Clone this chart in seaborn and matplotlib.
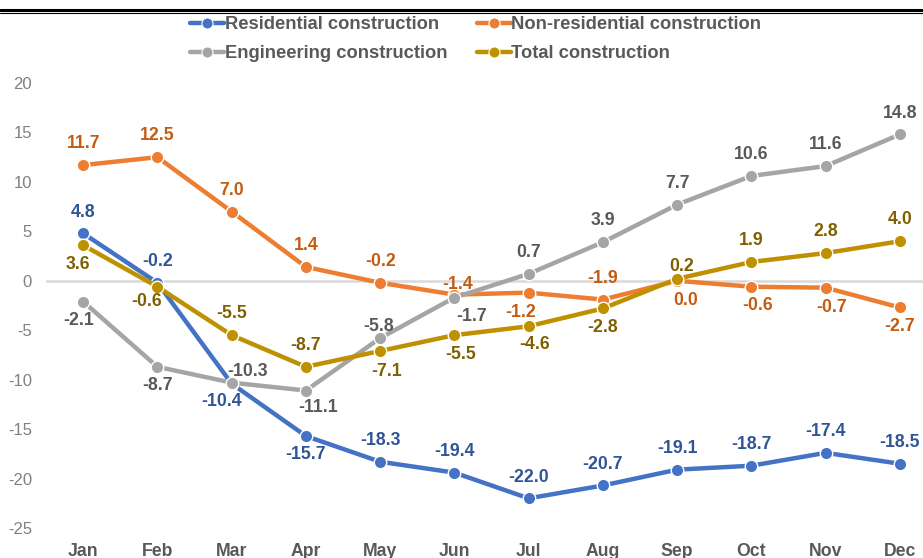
import pandas as pd
import matplotlib
matplotlib.use("Agg")
import matplotlib.pyplot as plt
from matplotlib.lines import Line2D
import seaborn as sns

# --- Data ---
months = ["Jan", "Feb", "Mar", "Apr", "May", "Jun", "Jul", "Aug", "Sep", "Oct", "Nov", "Dec"]
residential = [4.8, -0.2, -10.4, -15.7, -18.3, -19.4, -22.0, -20.7, -19.1, -18.7, -17.4, -18.5]
non_residential = [11.7, 12.5, 7.0, 1.4, -0.2, -1.4, -1.2, -1.9, 0.0, -0.6, -0.7, -2.7]
engineering = [-2.1, -8.7, -10.3, -11.1, -5.8, -1.7, 0.7, 3.9, 7.7, 10.6, 11.6, 14.8]
total = [3.6, -0.6, -5.5, -8.7, -7.1, -5.5, -4.6, -2.8, 0.2, 1.9, 2.8, 4.0]

series_names = ["Residential construction", "Non-residential construction",
                "Engineering construction", "Total construction"]
series_values = [residential, non_residential, engineering, total]

# --- Styles ---
line_colors = ["#4472C4", "#ED7D31", "#A5A5A5", "#BF9000"]
label_colors = ["#2F5597", "#C55A11", "#595959", "#7F6000"]

# label placement: a = above, b = below
label_pos = [
    ["a", "a", "b", "b", "a", "a", "a", "a", "a", "a", "a", "a"],
    ["a", "a", "a", "a", "a", "a", "b", "a", "b", "b", "b", "b"],
    ["b", "b", "a", "b", "a", "b", "a", "a", "a", "a", "a", "a"],
    ["b", "b", "a", "a", "b", "b", "b", "b", "a", "a", "a", "a"],
]
# fine tweaks (dx, dy) in screen pixels, dy positive = downwards
label_tweaks = {
    (0, 2): (-10, 16),
    (1, 5): (3, -12),
    (1, 6): (-8, 18),
    (1, 8): (9, 18),
    (1, 9): (6, 17),
    (1, 10): (6, 18),
    (2, 0): (-5, 17),
    (2, 2): (16, -13),
    (2, 3): (12, 15),
    (2, 4): (-2, -13),
    (2, 5): (17, 17),
    (3, 0): (-5, 18),
    (3, 1): (-11, 13),
    (3, 4): (6, 19),
    (3, 5): (6, 18),
    (3, 6): (6, 17),
    (3, 8): (4, -14),
}

rows = []
for name, vals in zip(series_names, series_values):
    for i, v in enumerate(vals):
        rows.append({"series": name, "idx": i, "value": v})
df = pd.DataFrame(rows)

sns.set_theme(style="white")
plt.rcParams["font.family"] = ["Liberation Sans", "DejaVu Sans"]
plt.rcParams["axes.unicode_minus"] = False

fig = plt.figure(figsize=(9.23, 5.58), dpi=100)
ax = fig.add_axes([46 / 923, 30 / 558, 891 / 923, 445 / 558])

ax.axhline(0, color="#D9D9D9", lw=1.8, zorder=1)

sns.lineplot(data=df, x="idx", y="value", hue="series", hue_order=series_names,
             palette=line_colors, marker="o", markersize=9, markeredgecolor="white",
             markeredgewidth=1, linewidth=3.2, legend=False, ax=ax, zorder=3)

for s, vals in enumerate(series_values):
    for i, v in enumerate(vals):
        if (s, i) in label_tweaks:
            dx, dy = label_tweaks[(s, i)]
        elif label_pos[s][i] == "a":
            dx, dy = 0, -23
        else:
            dx, dy = 0, 17
        # shift to put digit centre where wanted
        ax.annotate(f"{v:.1f}", (i, v), xytext=(dx, -dy - 1.7), textcoords="offset pixels",
                    ha="center", va="center", fontsize=12.7, fontweight="bold",
                    color=label_colors[s], zorder=5)

ax.set_xlim(-0.5, 11.5)
ax.set_ylim(-25, 20)
ax.set_yticks(range(-25, 21, 5))
ax.set_xticks(range(12))
ax.set_xticklabels(months, fontsize=12.7, fontweight="bold", color="#595959")
ax.tick_params(axis="y", length=0, pad=10, labelsize=12, labelcolor="#808080")
ax.tick_params(axis="x", length=0, pad=10.5)
ax.set_xlabel("")
ax.set_ylabel("")
for sp in ax.spines.values():
    sp.set_visible(False)

# legend (row-wise order: Res | Non-res, Eng | Total)
handles = [Line2D([0], [0], color=c, lw=3.2, marker="o", markersize=8,
                  markeredgecolor="white", markeredgewidth=0.8) for c in line_colors]
order = [0, 2, 1, 3]
fig.legend([handles[k] for k in order], [series_names[k] for k in order], ncol=2,
           loc="upper left", bbox_to_anchor=(190 / 923, 1 - 16 / 558),
           frameon=False, borderpad=0, borderaxespad=0, handlelength=1.85,
           handletextpad=0.05, columnspacing=1.6, labelspacing=0.68,
           prop={"size": 13.2, "weight": "bold"}, labelcolor="#595959")

# double rule at top
fig.add_artist(Line2D([0, 1], [1 - 10 / 558, 1 - 10 / 558], color="black", lw=2.2,
                      transform=fig.transFigure))
fig.add_artist(Line2D([0, 1], [1 - 13 / 558, 1 - 13 / 558], color="black", lw=0.8,
                      transform=fig.transFigure))

fig.savefig("out.png", dpi=100)
